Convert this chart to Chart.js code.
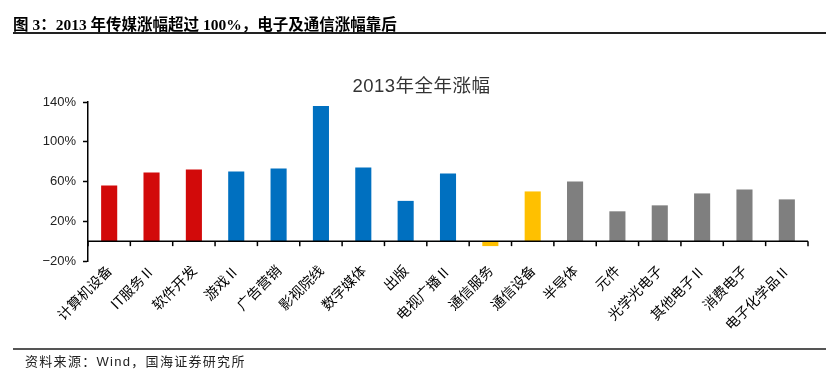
<!DOCTYPE html>
<html>
<head>
<meta charset="utf-8">
<script src="https://cdn.jsdelivr.net/npm/chart.js@4"></script>
<style>
  html, body { margin: 0; padding: 0; background: #fff; }
  #wrap { position: relative; width: 826px; height: 369px; overflow: hidden; }
  #c { position: absolute; left: 0; top: 0; }
  .txt { position: absolute; white-space: nowrap; line-height: 1; }
  #hdr { left: 13px; top: 12px; font: bold 15.5px "Liberation Serif", "Noto Sans CJK SC", serif; color: #000; }
  #hline { position: absolute; left: 13px; top: 32px; width: 813px; height: 2px; background: #222; }
  #ttl { left: 0; width: 843px; text-align: center; top: 71px; font: 18.5px "Liberation Sans", "Noto Sans CJK SC", sans-serif; color: #333; letter-spacing: 0.5px; }
  #fline { position: absolute; left: 13px; top: 348px; width: 813px; height: 1.5px; background: #555; }
  #ftr { left: 25px; top: 351px; font: 13px "Liberation Sans", "Noto Sans CJK SC", sans-serif; color: #222; letter-spacing: 1.3px; }
</style>
</head>
<body>
<div id="wrap">
  <canvas id="c" width="826" height="369"></canvas>
  <div class="txt" id="hdr">图 3：2013 年传媒涨幅超过 100%，电子及通信涨幅靠后</div>
  <div id="hline"></div>
  <div class="txt" id="ttl">2013年全年涨幅</div>
  <div id="fline"></div>
  <div class="txt" id="ftr">资料来源：Wind，国海证券研究所</div>
</div>
<script>
const categories = ['计算机设备','IT服务Ⅱ','软件开发','游戏Ⅱ','广告营销','影视院线','数字媒体','出版','电视广播Ⅱ','通信服务','通信设备','半导体','元件','光学光电子','其他电子Ⅱ','消费电子','电子化学品Ⅱ'];
const gains = [56, 69, 72, 70, 73, 136, 74, 40.5, 68, -5, 50, 60, 30, 36, 48, 52, 42];
const groups = ['计算机','计算机','计算机','传媒','传媒','传媒','传媒','传媒','传媒','通信','通信','电子','电子','电子','电子','电子','电子'];
const yTicks = [-20, 20, 60, 100, 140];

const groupColors = { '计算机': '#D20A0A', '传媒': '#0070C0', '通信': '#FFC000', '电子': '#7F7F7F' };
const barColors = groups.map(g => groupColors[g]);

const zeroTicks = {
  id: 'zeroTicks',
  afterDatasetsDraw(chart) {
    const xs = chart.scales.x, ys = chart.scales.y;
    const y0 = ys.getPixelForValue(0);
    const ctx = chart.ctx;
    ctx.save();
    ctx.strokeStyle = '#000';
    ctx.lineWidth = 1.5;
    ctx.beginPath();
    ctx.moveTo(chart.chartArea.left, y0);
    ctx.lineTo(chart.chartArea.right, y0);
    ctx.stroke();
    const n = categories.length;
    for (let i = 0; i <= n; i++) {
      let x;
      if (i === 0) x = chart.chartArea.left;
      else if (i === n) x = chart.chartArea.right;
      else x = (xs.getPixelForValue(i - 1) + xs.getPixelForValue(i)) / 2;
      ctx.beginPath();
      ctx.moveTo(x, y0);
      ctx.lineTo(x, y0 + 5);
      ctx.stroke();
    }
    ctx.restore();
  }
};

new Chart(document.getElementById('c'), {
  type: 'bar',
  data: {
    labels: categories,
    datasets: [{
      data: gains,
      backgroundColor: barColors,
      borderWidth: 0,
      barPercentage: 0.38,
      categoryPercentage: 1
    }]
  },
  options: {
    responsive: false,
    animation: false,
    layout: { padding: { left: 0, top: 102, right: 18, bottom: 0 } },
    plugins: { legend: { display: false }, title: { display: false }, tooltip: { enabled: false } },
    scales: {
      x: {
        offset: true,
        grid: { display: false, drawTicks: false },
        border: { display: false },
        ticks: {
          autoSkip: false,
          minRotation: 45,
          maxRotation: 45,
          padding: 1,
          color: '#000',
          font: { family: '"Noto Sans CJK SC", sans-serif', size: 14 }
        },
        afterFit(scale) { scale.height = 108; }
      },
      y: {
        min: -20,
        max: 140,
        afterBuildTicks(scale) { scale.ticks = yTicks.map(v => ({ value: v })); },
        grid: {
          drawOnChartArea: false,
          drawTicks: true,
          tickLength: 5,
          tickColor: '#000',
          tickWidth: 1.5,
          color: 'rgba(0,0,0,0)'
        },
        border: { display: true, color: '#000', width: 1.5 },
        ticks: {
          padding: 7,
          color: '#222',
          font: { family: '"Liberation Sans", Arial, sans-serif', size: 13 },
          callback: v => (v < 0 ? '\u2212' + Math.abs(v) : v) + '%'
        },
        afterFit(scale) { scale.width = 88; }
      }
    }
  },
  plugins: [zeroTicks]
});
</script>
</body>
</html>
